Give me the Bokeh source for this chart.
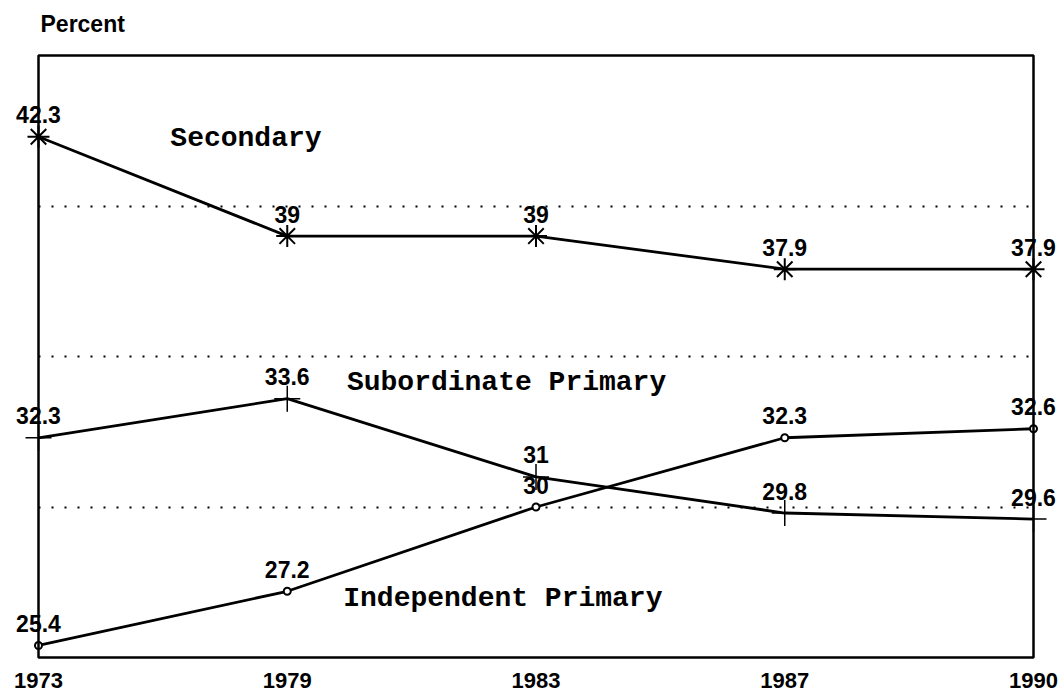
from bokeh.plotting import figure
from bokeh.models import (ColumnDataSource, Range1d, FixedTicker, LabelSet, Label, BoxAnnotation)
from bokeh.core.properties import value
from bokeh.embed import file_html
from bokeh.resources import INLINE

years = ["1973", "1979", "1983", "1987", "1990"]
secondary = [42.3, 39, 39, 37.9, 37.9]
sub_primary = [32.3, 33.6, 31, 29.8, 29.6]
ind_primary = [25.4, 27.2, 30, 32.3, 32.6]
grid_levels = [30, 35, 40]
y_lo, y_hi = 25, 45
y_title = "Percent"

W, H = 1064, 693
box_l, box_r, box_t, box_b = 38, 1033, 55, 657
n = len(years)
xs = list(range(n))
ppx = (box_r - box_l) / (n - 1)
ppy = (box_b - box_t) / (y_hi - y_lo)
pad = 4

p = figure(width=W, height=H, output_backend="svg", toolbar_location=None,
           x_range=Range1d(-box_l / ppx, (n - 1) + (W - box_r) / ppx),
           y_range=Range1d(y_lo - pad / ppy, y_hi + box_t / ppy),
           min_border_left=0, min_border_right=0,
           min_border_top=0, min_border_bottom=H - box_b - pad)

p.background_fill_color = "white"
p.border_fill_color = "white"
p.outline_line_color = None

p.yaxis.visible = False
p.xgrid.visible = False

g = p.ygrid[0]
if "cross_bounds" in g.properties():
    g.ticker = FixedTicker(ticks=grid_levels)
    g.cross_bounds = (0, n - 1)
    g.grid_line_color = "black"
    g.grid_line_width = 2
    g.grid_line_dash = "2 11"
else:
    g.visible = False
    p.segment(x0=[0] * len(grid_levels), x1=[n - 1] * len(grid_levels),
              y0=grid_levels, y1=grid_levels, line_color="black",
              line_width=2, line_dash="2 11")

p.add_layout(BoxAnnotation(left=0, right=n - 1, bottom=y_lo, top=y_hi,
                           fill_alpha=0, fill_color=None,
                           line_color="black", line_width=2.5, line_alpha=1))

# "Percent" label above the box, top-left
p.add_layout(Label(x=2 / ppx, y=y_hi + (box_t - 23) / ppy, text=y_title,
                   text_align="left", text_baseline="middle",
                   text_font="Liberation Sans", text_font_size="23px",
                   text_font_style="bold", text_color="black"))

ax = p.xaxis[0]
ax.ticker = FixedTicker(ticks=xs)
ax.major_label_overrides = {i: y for i, y in enumerate(years)}
ax.axis_line_color = None
ax.major_tick_line_color = None
ax.minor_tick_line_color = None
ax.major_tick_out = 0
ax.major_tick_in = 0
ax.minor_tick_out = 0
ax.major_label_standoff = 11
ax.major_label_text_font = "Liberation Sans"
ax.major_label_text_font_size = "22px"
ax.major_label_text_font_style = "bold"
ax.major_label_text_color = "black"

def fmt(v):
    return f"{v:g}"

series = [(secondary, "asterisk"), (sub_primary, "cross"), (ind_primary, "circle")]

for vals, marker in series:
    src = ColumnDataSource(dict(x=xs, y=vals, lab=[fmt(v) for v in vals]))
    p.line("x", "y", source=src, line_color="black", line_width=2.8)
    if marker == "asterisk":
        p.scatter("x", "y", source=src, marker="asterisk", size=22,
                  line_color="black", line_width=2)
    elif marker == "cross":
        p.scatter("x", "y", source=src, marker="cross", size=26,
                  line_color="black", line_width=1.5)
    else:
        p.scatter("x", "y", source=src, marker="circle", size=7,
                  line_color="black", line_width=2, fill_color="white")
    p.add_layout(LabelSet(x="x", y="y", text="lab", source=src, text_align="center",
                          text_baseline="middle", y_offset=22,
                          text_font=value("Liberation Sans"), text_font_size="23px",
                          text_font_style="bold", text_color="black"))

for txt, lx, ly in [("Secondary", 0.53, 42.25),
                    ("Subordinate Primary", 1.24, 34.15),
                    ("Independent Primary", 1.225, 26.95)]:
    p.add_layout(Label(x=lx, y=ly, text=txt, text_align="left", text_baseline="middle",
                       text_font="Liberation Mono", text_font_size="28px",
                       text_font_style="bold", text_color="black"))

open("out.html", "w").write(file_html(p, INLINE))
